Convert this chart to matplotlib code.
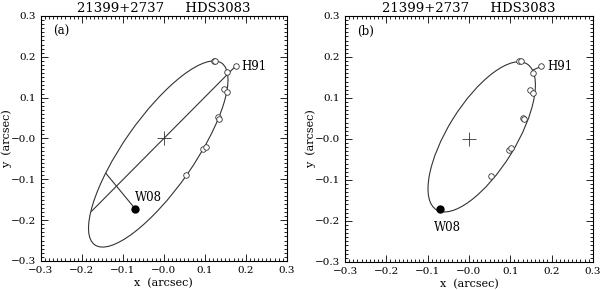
import matplotlib.pyplot as plt
from matplotlib.patches import Ellipse
from matplotlib.ticker import MultipleLocator

plt.rcParams['font.family'] = ['DejaVu Serif']

title = '21399+2737     HDS3083'
tick_vals = [-0.3, -0.2, -0.1, 0.0, 0.1, 0.2, 0.3]
tick_labels = ['\u22120.3', '\u22120.2', '\u22120.1', '\u22120.0', '0.1', '0.2', '0.3']

# observations (arcsec)
obs_x = [0.122, 0.126, 0.175, 0.155, 0.148, 0.155, 0.132, 0.134, 0.096, 0.103, 0.053]
obs_y = [0.190, 0.189, 0.177, 0.162, 0.120, 0.113, 0.052, 0.048, -0.026, -0.021, -0.090]
h91 = (0.175, 0.177)
w08 = (-0.070, -0.172)

# apparent orbits: center x, center y, semi-major, semi-minor, angle (deg)
orbit_a = (-0.0135, -0.038, 0.271, 0.0863, 55.2)
orbit_b = (0.031, 0.005, 0.209, 0.0823, 58.4)

# residual lines (observed -> predicted)
resid_a = [(h91, (-0.176, -0.178)), (w08, (-0.1415, -0.085))]
resid_b = [(h91, (0.155, 0.168))]

fig = plt.figure(figsize=(6, 2.9), dpi=100)
ax1 = fig.add_axes([0.068, 0.100, 0.410, 0.845])
ax2 = fig.add_axes([0.575, 0.097, 0.413, 0.848])


def draw(ax, orbit, resid, tag, w08_text):
    cx, cy, a, b, ang = orbit
    ax.add_patch(Ellipse((cx, cy), 2 * a, 2 * b, angle=ang, fill=False,
                         color='#333333', lw=0.8))
    for p, q in resid:
        ax.plot([p[0], q[0]], [p[1], q[1]], color='#333333', lw=0.8)
    ax.plot(obs_x, obs_y, 'o', mfc='white', mec='#333333', ms=4, mew=0.6)
    ax.plot([w08[0]], [w08[1]], 'o', color='black', ms=5)
    ax.plot([0], [0], '+', color='#333333', ms=10, mew=0.6)
    ax.text(h91[0] + 0.015, h91[1], 'H91', fontsize=8.5, va='center')
    ax.text(w08_text[0], w08_text[1], 'W08', fontsize=8.5, va='center')
    ax.text(-0.27, 0.262, tag, fontsize=8.5, va='center')

    ax.set_xlim(-0.3, 0.3)
    ax.set_ylim(-0.3, 0.3)
    ax.set_xticks(tick_vals)
    ax.set_xticklabels(tick_labels)
    ax.set_yticks(tick_vals)
    ax.set_yticklabels(tick_labels)
    ax.xaxis.set_minor_locator(MultipleLocator(0.01))
    ax.yaxis.set_minor_locator(MultipleLocator(0.01))
    ax.tick_params(which='both', direction='in', top=True, right=True,
                   labelsize=7.5, width=0.6)
    ax.tick_params(which='major', length=5)
    ax.tick_params(which='minor', length=2.5)
    for s in ax.spines.values():
        s.set_linewidth(0.8)
    ax.set_xlabel('x  (arcsec)', fontsize=8, labelpad=2)
    ax.set_ylabel('y  (arcsec)', fontsize=8)
    ax.yaxis.set_label_coords(-0.115, 0.5)
    ax.set_title(title, fontsize=9.5, pad=3)


draw(ax1, orbit_a, resid_a, '(a)', (-0.07, -0.145))
draw(ax2, orbit_b, resid_b, '(b)', (-0.085, -0.215))

fig.savefig('out.png', dpi=100)
